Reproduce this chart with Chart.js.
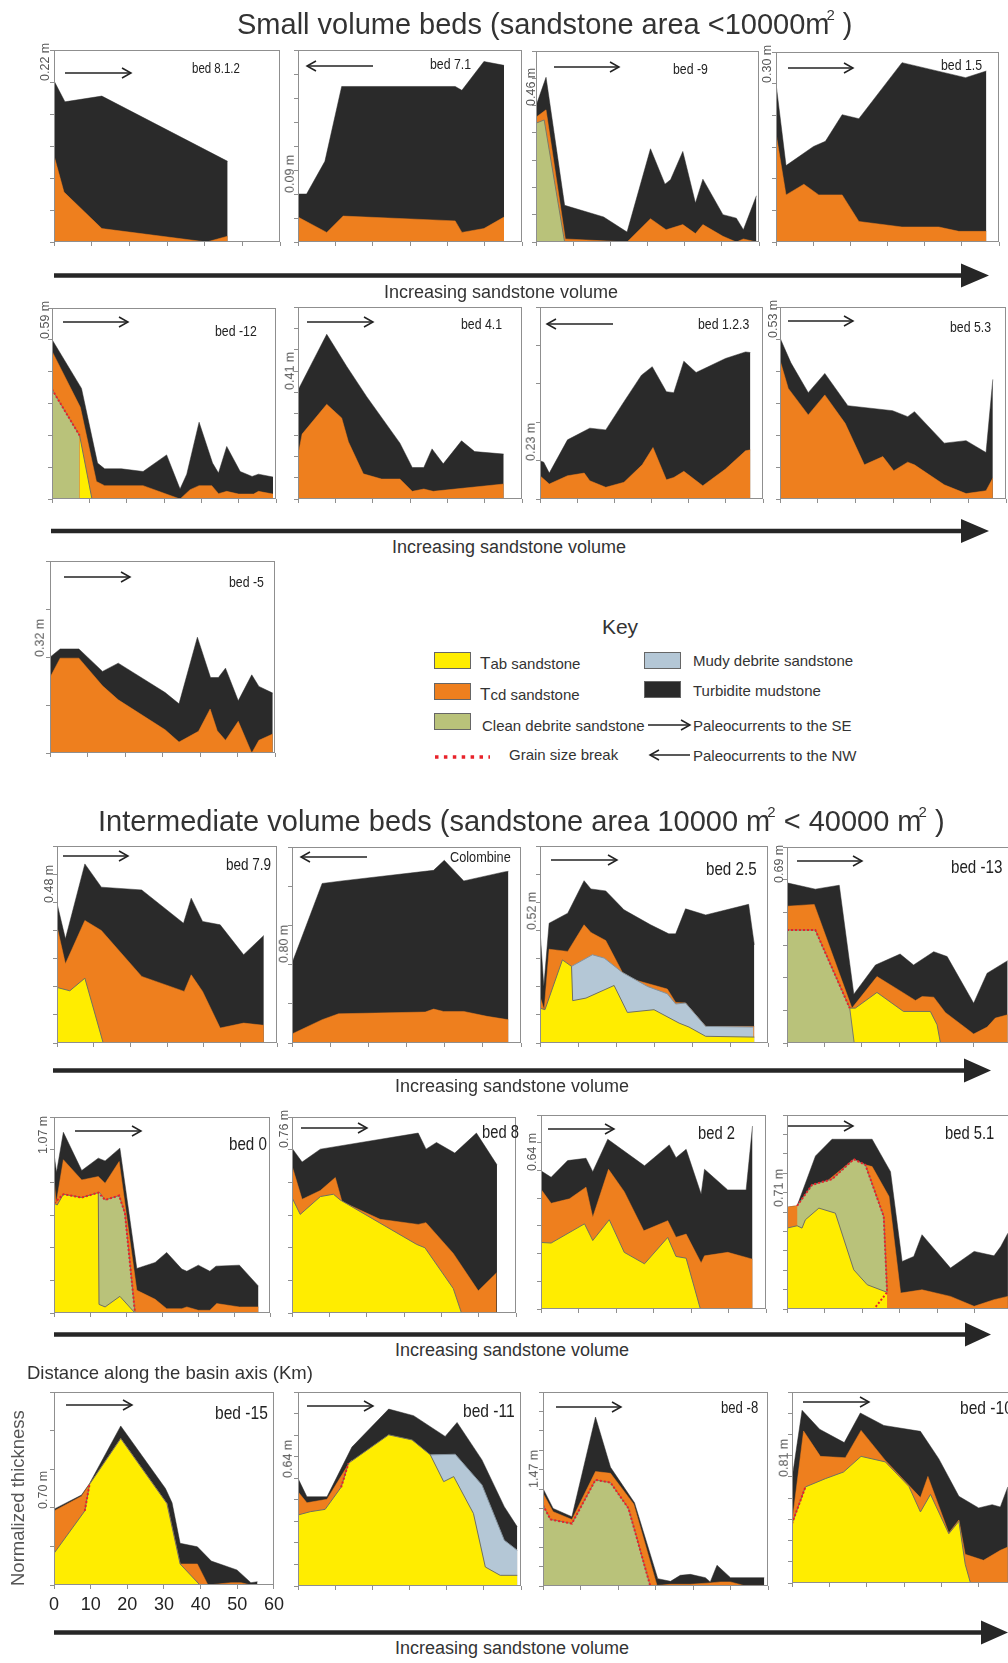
<!DOCTYPE html>
<html>
<head>
<meta charset="utf-8">
<script src="https://cdn.jsdelivr.net/npm/chart.js@4.4.1/dist/chart.umd.min.js"></script>
<style>
  html, body { margin: 0; padding: 0; background: #fff; }
  #page { position: relative; width: 1008px; height: 1663px; overflow: hidden;
          font-family: "Liberation Sans", Arial, sans-serif; color: #333; }
  #page canvas { position: absolute; }
  .t { position: absolute; white-space: nowrap; line-height: 1; }
  .bed { color: #222; transform-origin: 0 50%; transform: scaleX(0.82); }
  .yl { font-size: 12.5px; color: #555; transform-origin: 0 0; transform: rotate(-90deg) translateY(-50%); }
  .sw { position: absolute; width: 37px; height: 17px; border: 1.5px solid #666; box-sizing: border-box; }
  #over { position: absolute; left: 0; top: 0; pointer-events: none; }
</style>
</head>
<body>
<div id="page"></div>
<script>
// ---- profile tops: [distance km, normalized thickness] ----
const b812Mud = [[0,0.84],[2.9,0.73],[12.7,0.76],[46.1,0.42]];
const b812Tcd = [[0,0.45],[2.65,0.26],[12.7,0.07],[40.5,0],[46.1,0.03]];

const b71Mud = [[0,0.25],[2.3,0.25],[7.2,0.42],[11.7,0.81],[42.1,0.81],[43.9,0.79],[49.8,0.94],[55.2,0.92]];
const b71Tcd = [[0,0.13],[7.7,0.05],[12.1,0.135],[42.1,0.11],[43.9,0.05],[49.8,0.07],[55.2,0.13]];

const bm9Mud = [[0,0.713],[2.7,0.862],[7.7,0.192],[18.2,0.131],[24.5,0.052],[30.8,0.488],[34.7,0.303],[36.2,0.326],[39.5,0.474],[42.9,0.204],[44.9,0.329],[50.3,0.143],[53.9,0.125],[55.8,0.064],[59.3,0.242]];
const bm9Tcd = [[0,0.653],[2.7,0.692],[7.9,0.016],[24.5,0],[30.8,0.122],[35.0,0.064],[39.5,0.091],[42.9,0.044],[44.9,0.091],[50.3,0.03],[53.9,0],[55.8,0.016],[59.3,0]];
const bm9Clean = [[0,0.622],[2.2,0.639],[7.7,0]];

const b15Mud = [[0,0.834],[2.7,0.402],[10.1,0.503],[13.3,0.530],[17.8,0.670],[22.3,0.649],[33.9,0.944],[51.0,0.865],[56.6,0.900]];
const b15Tcd = [[0,0.572],[2.7,0.248],[7.5,0.304],[11.5,0.248],[17.8,0.248],[22.3,0.108],[33.9,0.079],[43.8,0.079],[49.2,0.056],[56.6,0.056]];

const bm12Mud = [[0,0.835],[7.9,0.579],[12.2,0.188],[14.1,0.158],[18.6,0.158],[24.4,0.144],[30.7,0.231],[34.3,0.052],[36.1,0.130],[39.4,0.402],[43.0,0.188],[44.6,0.136],[46.8,0.275],[50.4,0.144],[53.6,0.118],[55.3,0.130],[59.2,0.115]];
const bm12Tcd = [[0,0.774],[7.6,0.480],[11.9,0.092],[14.1,0.070],[24.4,0.070],[34.3,0],[37.0,0.049],[39.4,0.070],[42.8,0.070],[44.6,0.028],[46.8,0.040],[50.0,0.026],[54.0,0.026],[55.3,0.040],[59.2,0.026]];
const bm12Clean = [[0,0.574],[7.4,0.332]];
const bm12Tab = [[7.4,0.332],[10.7,0]];
const bm12Break = [[0,0.574],[7.4,0.332]];

const b41Mud = [[0,0.567],[7.7,0.858],[13.1,0.689],[18.4,0.533],[27.3,0.291],[30.6,0.164],[33.7,0.164],[35.9,0.261],[38.9,0.183],[43.8,0.303],[47.3,0.247],[55.1,0.234]];
const b41Tcd = [[0,0.225],[1.1,0.338],[7.7,0.493],[11.7,0.422],[13.5,0.298],[17.5,0.131],[22.4,0.104],[27.3,0.104],[30.6,0.040],[33.7,0.052],[36.2,0.040],[55.1,0.078]];

const b123Mud = [[0,0.199],[1.0,0.192],[2.5,0.135],[7.4,0.308],[13.4,0.369],[17.7,0.360],[22.6,0.507],[27.3,0.645],[30.2,0.689],[34.0,0.559],[36.0,0.554],[38.7,0.718],[42.0,0.659],[49.9,0.732],[55.3,0.766],[56.6,0.763]];
const b123Tcd = [[0,0.121],[2.5,0.078],[7.4,0.121],[11.9,0.135],[13.4,0.095],[17.7,0.061],[22.6,0.087],[27.5,0.178],[30.4,0.268],[34.0,0.100],[36.0,0.112],[38.7,0.144],[43.8,0.069],[49.9,0.156],[55.3,0.251],[56.6,0.256]];

const b53Mud = [[0,0.839],[2.9,0.709],[7.5,0.554],[11.9,0.654],[18.0,0.486],[29.9,0.460],[33.9,0.429],[35.7,0.455],[43.6,0.291],[49.4,0.304],[54.7,0.242],[56.5,0.623]];
const b53Tcd = [[0,0.723],[2.2,0.576],[7.5,0.438],[11.9,0.542],[17.3,0.394],[22.4,0.178],[27.3,0.221],[30.2,0.147],[33.9,0.192],[35.7,0.178],[43.6,0.074],[49.4,0.028],[54.7,0.043],[56.5,0.109]];

const bm5Mud = [[0,0.499],[2.7,0.542],[7.7,0.542],[14.0,0.425],[18.2,0.468],[30.7,0.315],[34.4,0.256],[39.3,0.603],[42.8,0.393],[44.9,0.393],[46.8,0.442],[50.2,0.272],[53.8,0.407],[55.7,0.347],[59.4,0.312]];
const bm5Tcd = [[0,0.393],[2.7,0.494],[7.7,0.494],[14.0,0.350],[18.2,0.277],[30.7,0.121],[34.4,0.057],[39.6,0.113],[42.7,0.229],[44.6,0.116],[46.8,0.066],[50.2,0.165],[53.8,0],[55.7,0.066],[59.4,0.099]];

const b79Mud = [[0,0.709],[2.3,0.529],[7.6,0.909],[12.1,0.791],[23.1,0.777],[34.5,0.608],[36.6,0.735],[39.7,0.617],[44.5,0.600],[50.9,0.448],[56.4,0.546]];
const b79Tcd = [[0,0.591],[2.3,0.402],[7.6,0.622],[12.1,0.571],[23.1,0.338],[34.7,0.262],[36.6,0.346],[39.7,0.262],[44.5,0.076],[50.9,0.101],[56.4,0.090]];
const b79Tab = [[0,0.282],[3.5,0.265],[7.6,0.329],[12.6,0]];

const colMud = [[0,0.407],[7.9,0.814],[13.1,0.827],[37.1,0.881],[39.9,0.932],[45.0,0.827],[55.6,0.873],[56.7,0.876]];
const colTcd = [[0,0.046],[7.9,0.119],[12.2,0.149],[34.9,0.158],[37.1,0.173],[39.7,0.161],[45.0,0.161],[51.1,0.136],[55.6,0.122],[56.7,0.119]];

const b25Mud = [[0,0.574],[1.0,0.287],[2.4,0.608],[7.3,0.659],[11.6,0.824],[13.4,0.782],[17.3,0.772],[22.1,0.676],[29.1,0.600],[33.9,0.554],[35.7,0.554],[38.3,0.681],[43.6,0.650],[54.9,0.704],[56.4,0.498]];
const b25Tcd = [[0,0.236],[1.1,0.169],[2.4,0.476],[7.3,0.465],[11.6,0.600],[13.4,0.561],[17.3,0.520],[21.7,0.358],[24.8,0.321],[33.5,0.274],[35.7,0.206],[38.3,0.203],[43.6,0.084],[56.4,0.084]];
const b25Muddy = [[8.3,0.389],[13.8,0.448],[16.9,0.431],[21.7,0.358],[28.3,0.287],[33.5,0.250],[35.7,0.198],[38.3,0.203],[43.6,0.084],[56.2,0.081]];
const b25Tab = [[0,0.177],[1.3,0.169],[5.9,0.422],[8.3,0.389],[8.6,0.215],[12.1,0.228],[19.5,0.292],[23.0,0.155],[30.0,0.169],[36.6,0.101],[39.2,0.081],[43.6,0.034],[56.4,0.030]];

const bm13Mud = [[0,0.817],[7.6,0.785],[14.0,0.805],[17.9,0.249],[23.7,0.398],[30.3,0.454],[33.9,0.398],[39.3,0.466],[42.9,0.441],[50.0,0.203],[53.6,0.356],[59.1,0.42]];
const bm13Tcd = [[0,0.698],[7.3,0.707],[17.4,0.178],[24.1,0.339],[29.9,0.271],[34.4,0.217],[36.2,0.237],[39.3,0.234],[42.4,0.156],[50.0,0.046],[53.6,0.081],[55.8,0.127],[59.1,0.144]];
const bm13Tab = [[16.8,0.178],[18.3,0.178],[24.1,0.258],[31.2,0.161],[38.4,0.161],[40.2,0.093],[41.1,0]];
const bm13Clean = [[0,0.576],[7.6,0.576],[16.8,0.178],[18.0,0]];
const bm13Break = [[0,0.576],[7.6,0.576],[16.8,0.178]];

const b0Mud = [[0,0.812],[0.7,0.717],[2.6,0.922],[7.7,0.727],[12.3,0.790],[14.2,0.776],[18.3,0.841],[23.0,0.227],[28.1,0.258],[31.3,0.309],[35.5,0.224],[36.9,0.213],[40.1,0.244],[43.3,0.213],[45.0,0.239],[51.5,0.244],[56.8,0.137]];
const b0Tcd = [[0,0.688],[0.6,0.560],[2.6,0.782],[7.7,0.679],[12.3,0.696],[14.2,0.662],[18.1,0.773],[23.0,0.116],[28.1,0.070],[31.3,0.022],[35.5,0.022],[36.9,0.031],[40.1,0.014],[43.3,0.014],[45.2,0.048],[51.5,0.031],[56.8,0.031]];
const b0Clean = [[12.5,0.618],[14.2,0.577],[18.1,0.599],[19.7,0.509],[22.5,0]];
const b0Tab = [[0,0.560],[0.9,0.551],[2.6,0.606],[7.7,0.589],[12.3,0.614],[12.5,0.044],[14.2,0.031],[18.3,0.085],[22.5,0]];
const b0Break = [[0,0.56],[2.6,0.606],[7.7,0.589],[12.3,0.614],[14.2,0.577],[18.1,0.599],[19.7,0.509],[22.5,0]];

const b8Mud = [[0,0.841],[2.7,0.770],[7.6,0.836],[33.8,0.918],[35.9,0.836],[38.7,0.870],[43.6,0.816],[49.4,0.918],[54.9,0.756]];
const b8Tcd = [[0,0.751],[2.7,0.580],[7.6,0.625],[11.6,0.691],[13.4,0.568],[23.6,0.478],[33.8,0.452],[35.9,0.461],[43.2,0.304],[49.9,0.113],[54.8,0.205]];
const b8Tab = [[0,0.589],[2.2,0.503],[7.6,0.594],[11.1,0.606],[12.9,0.577],[33.4,0.350],[35.6,0.333],[43.2,0.125],[45.4,0]];

const b2Mud = [[0,0.712],[2.7,0.679],[7.1,0.765],[12.0,0.777],[13.8,0.708],[17.8,0.875],[27.6,0.738],[34.2,0.846],[36.0,0.780],[38.7,0.823],[42.7,0.592],[43.6,0.720],[49.8,0.614],[54.7,0.614],[56.4,0.943]];
const b2Tcd = [[0,0.617],[2.7,0.545],[7.6,0.568],[12.0,0.628],[13.8,0.473],[18.0,0.720],[22.2,0.605],[27.4,0.403],[33.8,0.455],[36.0,0.370],[38.7,0.386],[42.7,0.237],[43.6,0.274],[49.8,0.292],[56.4,0.257]];
const b2Tab = [[0,0.343],[2.7,0.340],[11.6,0.439],[13.8,0.353],[18.2,0.460],[22.2,0.292],[27.6,0.233],[33.8,0.369],[36.0,0.271],[38.7,0.262],[42.5,0]];

const b51Mud = [[0,0.525],[2.7,0.532],[7.6,0.789],[12.0,0.875],[22.7,0.875],[27.6,0.708],[30.7,0.245],[33.8,0.271],[36.0,0.383],[43.6,0.211],[49.9,0.297],[55.2,0.274],[57.0,0.322],[58.9,0.391]];
const b51Tcd = [[0,0.525],[2.7,0.532],[17.8,0.772],[20.9,0.743],[22.7,0.734],[27.2,0.580],[30.3,0.082],[36.0,0.099],[43.6,0.065],[49.9,0.014],[55.2,0.048],[58.9,0.065]];
const b51Clean = [[2.7,0.532],[6.7,0.640],[12.0,0.669],[17.8,0.772],[20.9,0.743],[25.8,0.477],[26.7,0.086]];
const b51Tab = [[0,0.417],[2.7,0.429],[4.0,0.417],[4.9,0.460],[8.5,0.520],[12.9,0.494],[17.8,0.202],[21.4,0.125],[26.7,0.086]];
const b51Break = [[2.7,0.532],[6.7,0.640],[12.0,0.669],[17.8,0.772],[20.9,0.743],[25.8,0.477],[26.7,0.086],[23.2,0]];

const bm15Mud = [[0,0.393],[7.5,0.466],[9.7,0.526],[18.2,0.824],[30.4,0.5],[32.2,0.426],[34.4,0.216],[39.1,0.198],[42.9,0.124],[49.9,0.078],[53.7,0.012],[55.5,0.017]];
const bm15Tcd = [[0,0.384],[7.5,0.460],[9.7,0.522],[18.2,0.759],[30.8,0.422],[34.4,0.109],[39.1,0.109],[42.0,0],[48.3,0.012],[51.0,0.012],[53.7,0]];
const bm15Tab = [[0,0.164],[8.4,0.384],[9.7,0.522],[18.2,0.759],[30.8,0.422],[34.4,0.109],[39.8,0]];
const bm15Break = [[8.4,0.384],[9.7,0.522]];

const bm11Mud = [[0,0.555],[2.4,0.460],[7.8,0.460],[14.5,0.716],[24.4,0.912],[31.1,0.878],[39.6,0.771],[42.8,0.843],[49.5,0.650],[55.5,0.409],[59.0,0.305]];
const bm11Tcd = [[0,0.486],[2.4,0.429],[7.8,0.447],[13.6,0.629],[14.5,0.650]];
const bm11Muddy = [[35.6,0.676],[42.3,0.679],[49.5,0.521],[55.5,0.236],[59.0,0.184]];
const bm11Tab = [[0,0.366],[3.3,0.383],[7.3,0.395],[11.6,0.509],[13.6,0.633],[24.4,0.779],[30.7,0.753],[35.6,0.676],[39.2,0.538],[41.9,0.564],[47.2,0.374],[50.4,0.098],[54.4,0.055],[59.0,0.055]];
const bm11Break = [[11.6,0.509],[13.6,0.633]];

const bm8Mud = [[0,0.503],[2.7,0.4],[7.7,0.357],[14.0,0.871],[18.0,0.612],[24.4,0.429],[30.6,0.038],[34.0,0.024],[36.6,0.055],[39.3,0.060],[43.3,0.043],[44.6,0.021],[46.4,0.107],[50.0,0.043],[59.0,0.043]];
const bm8Tcd = [[0,0.478],[2.7,0.383],[7.7,0.343],[14.0,0.590],[18.0,0.581],[24.2,0.422],[30.4,0.003],[34.0,0.009],[39.3,0.009],[44.6,0.016],[47.3,0.021],[50.0,0.021],[53.5,0.003],[59.0,0.003]];
const bm8Clean = [[0,0.417],[2.0,0.343],[7.7,0.322],[14.0,0.547],[18.0,0.533],[22.8,0.4],[28.6,0]];

const bm10Mud = [[0,0.546],[2.7,0.904],[7.4,0.805],[14.0,0.735],[18.3,0.890],[24.6,0.825],[34.4,0.794],[39.3,0.651],[44.7,0.454],[50.0,0.393],[53.6,0.410],[55.8,0.398],[57.8,0.503]];
const bm10Tcd = [[0,0.314],[3.1,0.796],[7.6,0.663],[14.3,0.656],[18.5,0.799],[25.0,0.642],[34.4,0.447],[36.4,0.558],[42.0,0.262],[44.7,0.33],[46.4,0.150],[51.3,0.119],[55.8,0.171],[57.8,0.188]];
const bm10Tab = [[0,0.311],[3.6,0.503],[8.9,0.546],[13.8,0.581],[18.5,0.663],[25.0,0.634],[31.3,0.506],[34.4,0.372],[37.1,0.464],[42.0,0.258],[44.7,0.323],[46.4,0.098],[47.8,0]];
const bm10Break = [[0,0.311],[3.6,0.503]];

const distTicks = [0, 10, 20, 30, 40, 50, 60];

// ---- panel layout: box [left, top, right, bottom] in page px, layers back to front ----
const panels = [
  { name: 'bed 8.1.2', box: [54, 50, 280, 242], yStep: 1/6, thick: '0.22 m', yl: [45, 81], nm: [192, 68, 14], arrow: [65, 131, 73, 1],
    layers: [['mud', b812Mud], ['tcd', b812Tcd]] },
  { name: 'bed 7.1', box: [298, 50, 522, 242], yStep: 0.125, thick: '0.09 m', yl: [290, 193], nm: [430, 63, 15], arrow: [307, 373, 66, -1],
    layers: [['mud', b71Mud], ['tcd', b71Tcd]] },
  { name: 'bed -9', box: [536, 51, 759, 242], yStep: 1/7, thick: '0.46 m', yl: [531, 106], nm: [673, 68, 15], arrow: [554, 619, 67, 1],
    layers: [['mud', bm9Mud], ['tcd', bm9Tcd], ['clean', bm9Clean]] },
  { name: 'bed 1.5', box: [776, 52, 999, 242], yStep: 1/6, thick: '0.30 m', yl: [767, 83], nm: [941, 64, 15], arrow: [788, 853, 68, 1],
    layers: [['mud', b15Mud], ['tcd', b15Tcd]] },

  { name: 'bed -12', box: [52, 308, 276, 499], yStep: 1/6, thick: '0.59 m', yl: [45, 339], nm: [215, 330, 15], arrow: [63, 128, 322, 1],
    layers: [['mud', bm12Mud], ['tcd', bm12Tcd], ['clean', bm12Clean], ['tab', bm12Tab], ['break', bm12Break]] },
  { name: 'bed 4.1', box: [298, 307, 522, 499], yStep: 1/9, thick: '0.41 m', yl: [290, 390], nm: [461, 323, 15], arrow: [307, 373, 322, 1],
    layers: [['mud', b41Mud], ['tcd', b41Tcd]] },
  { name: 'bed 1.2.3', box: [540, 307, 763, 499], yStep: 0.2, thick: '0.23 m', yl: [531, 461], nm: [698, 323, 15], arrow: [547, 613, 324, -1],
    layers: [['mud', b123Mud], ['tcd', b123Tcd]] },
  { name: 'bed 5.3', box: [780, 307, 1006, 499], yStep: 1/6, thick: '0.53 m', yl: [773, 338], nm: [950, 326, 15], arrow: [788, 853, 321, 1],
    layers: [['mud', b53Mud], ['tcd', b53Tcd]] },

  { name: 'bed -5', box: [50, 561, 275, 753], yStep: 0.25, thick: '0.32 m', yl: [40, 657], nm: [229, 581, 15], arrow: [64, 130, 577, 1],
    layers: [['mud', bm5Mud], ['tcd', bm5Tcd]] },

  { name: 'bed 7.9', box: [57, 846, 277, 1043], yStep: 1/7, thick: '0.48 m', yl: [49, 903], nm: [226, 864, 16.5], arrow: [63, 128, 856, 1],
    layers: [['mud', b79Mud], ['tcd', b79Tcd], ['tab', b79Tab]] },
  { name: 'Colombine', box: [292, 847, 521, 1043], yStep: 0.2, thick: '0.80 m', yl: [284, 963], nm: [450, 857, 15.5], arrow: [301, 367, 857, -1],
    layers: [['mud', colMud], ['tcd', colTcd]] },
  { name: 'bed 2.5', box: [540, 846, 768, 1043], yStep: 1/7, thick: '0.52 m', yl: [532, 930], nm: [706, 869, 18.5], arrow: [551, 617, 860, 1],
    layers: [['mud', b25Mud], ['tcd', b25Tcd], ['muddy', b25Muddy], ['tab', b25Tab]] },
  { name: 'bed -13', box: [787, 847, 1011, 1043], yStep: 1/6, thick: '0.69 m', yl: [779, 883], nm: [951, 867, 18.5], arrow: [797, 862, 861, 1],
    layers: [['mud', bm13Mud], ['tcd', bm13Tcd], ['tab', bm13Tab], ['clean', bm13Clean], ['break', bm13Break]] },

  { name: 'bed 0', box: [54, 1117, 270, 1313], yStep: 1/6, thick: '1.07 m', yl: [43, 1154], nm: [229, 1144, 18.5], arrow: [75, 141, 1131, 1],
    layers: [['mud', b0Mud], ['tcd', b0Tcd], ['clean', b0Clean], ['tab', b0Tab], ['break', b0Break]] },
  { name: 'bed 8', box: [292, 1117, 516, 1313], yStep: 1/6, thick: '0.76 m', yl: [284, 1148], nm: [482, 1132, 18], arrow: [301, 367, 1128, 1],
    layers: [['mud', b8Mud], ['tcd', b8Tcd], ['tab', b8Tab]] },
  { name: 'bed 2', box: [541, 1115, 766, 1309], yStep: 1/7, thick: '0.64 m', yl: [532, 1171], nm: [698, 1133, 18], arrow: [548, 614, 1129, 1],
    layers: [['mud', b2Mud], ['tcd', b2Tcd], ['tab', b2Tab]] },
  { name: 'bed 5.1', box: [787, 1115, 1012, 1309], yStep: 0.1, thick: '0.71 m', yl: [779, 1207], nm: [945, 1133, 18], arrow: [788, 853, 1126, 1],
    layers: [['mud', b51Mud], ['tcd', b51Tcd], ['clean', b51Clean], ['tab', b51Tab], ['break', b51Break]] },

  { name: 'bed -15', box: [54, 1392, 277, 1585], yStep: 0.2, thick: '0.70 m', yl: [43, 1509], nm: [215, 1412, 19], arrow: [66, 132, 1405, 1], distAxis: true,
    layers: [['mud', bm15Mud], ['tcd', bm15Tcd], ['tab', bm15Tab], ['break', bm15Break]] },
  { name: 'bed -11', box: [298, 1392, 521, 1586], yStep: 1/9, thick: '0.64 m', yl: [288, 1478], nm: [463, 1410, 19], arrow: [307, 373, 1406, 1],
    layers: [['mud', bm11Mud], ['tcd', bm11Tcd], ['muddy', bm11Muddy], ['tab', bm11Tab], ['break', bm11Break]] },
  { name: 'bed -8', box: [543, 1392, 768, 1586], yStep: 0.1, thick: '1.47 m', yl: [534, 1488], nm: [721, 1408, 16], arrow: [556, 621, 1407, 1],
    layers: [['mud', bm8Mud], ['tcd', bm8Tcd], ['clean', bm8Clean], ['break', bm8Clean]] },
  { name: 'bed -10', box: [792, 1392, 1016, 1583], yStep: 1/9, thick: '0.81 m', yl: [784, 1477], nm: [960, 1407, 19], arrow: [803, 869, 1402, 1],
    layers: [['mud', bm10Mud], ['tcd', bm10Tcd], ['tab', bm10Tab], ['break', bm10Break]] }
];

const FILL = { mud: '#2a2a2a', tcd: '#ee7f1e', tab: '#ffed00', clean: '#b9c27a', muddy: '#b4c7d6' };
const EDGE = { mud: '#2a2a2a', tcd: '#ee7f1e', tab: '#707060', clean: '#7a7a68', muddy: '#85929c' };

function layerDataset(kind, pts, order) {
  const data = pts.map(p => ({ x: p[0], y: p[1] }));
  if (kind === 'break') {
    return { data, order, fill: false, borderColor: '#e8222a', borderWidth: 2, borderDash: [2, 2], pointRadius: 0 };
  }
  return { data, order, fill: 'origin', backgroundColor: FILL[kind], borderColor: EDGE[kind],
           borderWidth: (kind === 'mud' || kind === 'tcd') ? 0.5 : 1, pointRadius: 0 };
}

// thin grey box round each plot
const frame = {
  id: 'frame',
  afterDatasetsDraw(chart) {
    const { ctx, chartArea: a } = chart;
    ctx.save();
    ctx.strokeStyle = '#8f8f8f';
    ctx.lineWidth = 1;
    ctx.strokeRect(a.left + 0.5, a.top + 0.5, a.right - a.left - 1, a.bottom - a.top - 1);
    ctx.restore();
  }
};

const page = document.getElementById('page');
const M = 12;

function addText(html, x, y, css, cls) {
  const d = document.createElement('div');
  d.className = 't' + (cls ? ' ' + cls : '');
  d.innerHTML = html;
  d.style.left = x + 'px';
  d.style.top = y + 'px';
  if (css) d.style.cssText += css;
  page.appendChild(d);
  return d;
}

panels.forEach(p => {
  const [L, T, R, B] = p.box;
  const extra = p.distAxis ? 28 : 0;
  const w = R - L + 2 * M, h = B - T + 2 * M + extra;
  const cv = document.createElement('canvas');
  cv.width = w; cv.height = h;
  cv.style.left = (L - M) + 'px';
  cv.style.top = (T - M) + 'px';
  cv.style.width = w + 'px';
  cv.style.height = h + 'px';
  page.appendChild(cv);

  const n = p.layers.length;
  const tickGrid = { drawOnChartArea: false, drawTicks: true, tickLength: 4, color: '#8f8f8f' };
  new Chart(cv, {
    type: 'line',
    data: { datasets: p.layers.map(([kind, pts], i) => layerDataset(kind, pts, n - i)) },
    options: {
      responsive: false,
      devicePixelRatio: 1,
      animation: false,
      events: [],
      layout: { padding: { left: M - 6, top: M, right: M, bottom: M - 6 } },
      elements: { line: { tension: 0 }, point: { radius: 0 } },
      plugins: { legend: { display: false }, tooltip: { enabled: false } },
      scales: {
        x: {
          type: 'linear', min: 0, max: 60,
          border: { display: false },
          grid: tickGrid,
          afterBuildTicks: s => { s.ticks = distTicks.map(v => ({ value: v })); },
          ticks: { display: !!p.distAxis, color: '#222', padding: 5, maxRotation: 0, autoSkip: false,
                   font: { size: 18, family: '"Liberation Sans", Arial, sans-serif' } },
          afterFit: s => { s.height = 6 + extra; }
        },
        y: {
          min: 0, max: 1,
          border: { display: false },
          grid: tickGrid,
          ticks: { display: false, stepSize: p.yStep },
          afterFit: s => { s.width = 6; }
        }
      }
    },
    plugins: [frame]
  });

  addText(p.name, p.nm[0], p.nm[1] - p.nm[2] * 0.5, 'font-size:' + p.nm[2] + 'px;', 'bed');
  addText(p.thick, p.yl[0], p.yl[1], '', 'yl');
});

// ---- headings and axis words ----
addText('Small volume beds (sandstone area &lt;10000m<sup style="font-size:15px;margin-left:-3px;vertical-align:14px">2</sup> )', 237, 7, 'font-size:29px;');
addText('Intermediate volume beds (sandstone area 10000 m<sup style="font-size:15px;margin-left:-3px;vertical-align:14px">2</sup> &lt; 40000 m<sup style="font-size:15px;margin-left:-3px;vertical-align:14px">2</sup> )', 98, 804, 'font-size:29px;');

const volumeRows = [[501, 292], [509, 547], [512, 1086], [512, 1350], [512, 1648]];
volumeRows.forEach(([x, y]) => addText('Increasing sandstone volume', x, y - 9, 'font-size:18px;transform:translateX(-50%);'));

addText('Distance along the basin axis (Km)', 27, 1364, 'font-size:18.5px;');
addText('Normalized thickness', 18, 1586, 'font-size:18.5px;', 'yl');

// ---- key ----
addText('Key', 620, 616, 'font-size:21px;transform:translateX(-50%);');
const swatches = [[434, 652, FILL.tab], [434, 683, FILL.tcd], [434, 713, FILL.clean], [644, 652, FILL.muddy], [644, 681, FILL.mud]];
swatches.forEach(([x, y, c]) => {
  const s = document.createElement('div');
  s.className = 'sw';
  s.style.left = x + 'px'; s.style.top = y + 'px'; s.style.background = c;
  page.appendChild(s);
});
addText('<span style="font-size:17px">T</span>ab sandstone', 480, 655, 'font-size:15px;');
addText('<span style="font-size:17px">T</span>cd sandstone', 480, 686, 'font-size:15px;');
addText('Clean debrite sandstone', 482, 717.5, 'font-size:15px;');
addText('Grain size break', 509, 746.5, 'font-size:15px;');
addText('Mudy debrite sandstone', 693, 652.5, 'font-size:15px;');
addText('Turbidite mudstone', 693, 682.5, 'font-size:15px;');
addText('Paleocurrents to the SE', 693, 717.5, 'font-size:15px;');
addText('Paleocurrents to the NW', 693, 747.5, 'font-size:15px;');

// ---- arrows (flow direction, volume trend, key) ----
function smallArrow(x1, x2, y, dir) {
  const tip = dir > 0 ? x2 : x1;
  const back = tip - dir * 9;
  return `<line x1="${x1}" y1="${y}" x2="${x2}" y2="${y}" stroke="#222" stroke-width="1.5"/>` +
         `<polyline points="${back},${y - 5} ${tip},${y} ${back},${y + 5}" fill="none" stroke="#222" stroke-width="1.5"/>`;
}
function bigArrow(x1, headX, tip, y) {
  return `<line x1="${x1}" y1="${y}" x2="${headX + 2}" y2="${y}" stroke="#262626" stroke-width="4.5"/>` +
         `<polygon points="${headX},${y - 12} ${tip},${y} ${headX},${y + 12}" fill="#262626"/>`;
}
let svg = '';
panels.forEach(p => { svg += smallArrow(p.arrow[0], p.arrow[1], p.arrow[2], p.arrow[3]); });
svg += bigArrow(54, 961, 989, 275.5);
svg += bigArrow(51, 961, 989, 531);
svg += bigArrow(53, 964, 991, 1070.5);
svg += bigArrow(54, 965, 991, 1334.5);
svg += bigArrow(54, 981, 1008, 1632.5);
svg += smallArrow(648, 690, 725, 1);
svg += smallArrow(650, 690, 755, -1);
svg += `<line x1="435" y1="757" x2="490" y2="757" stroke="#e8222a" stroke-width="3.5" stroke-dasharray="3.5 5.4"/>`;

const over = document.createElementNS('http://www.w3.org/2000/svg', 'svg');
over.setAttribute('id', 'over');
over.setAttribute('width', '1008');
over.setAttribute('height', '1663');
over.innerHTML = svg;
page.appendChild(over);
</script>
</body>
</html>
